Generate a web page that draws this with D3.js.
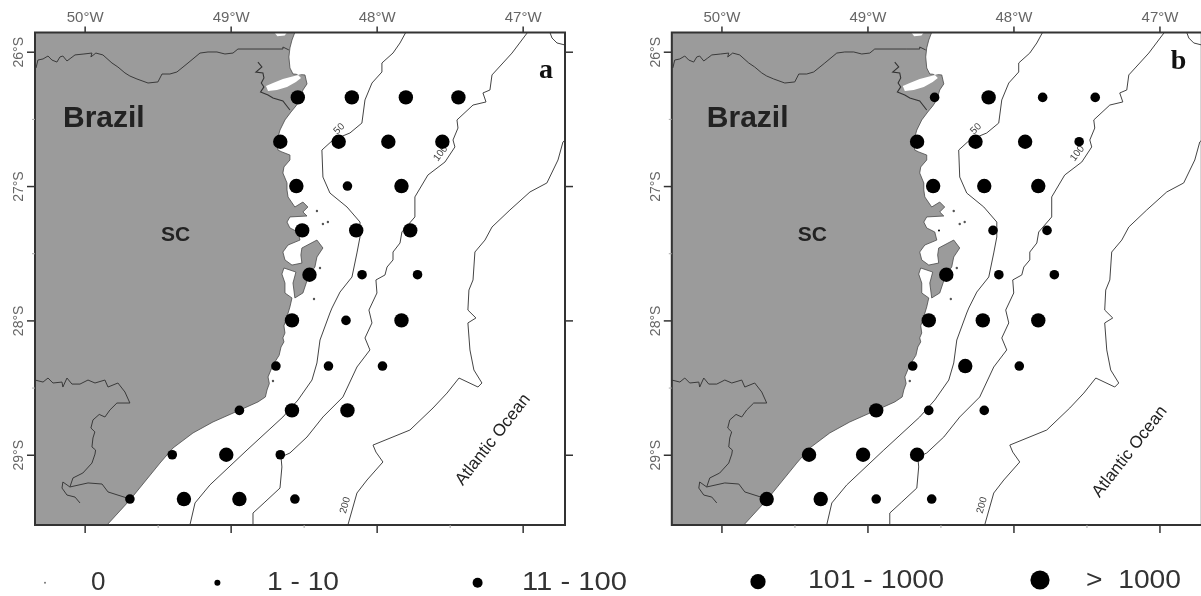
<!DOCTYPE html>
<html>
<head>
<meta charset="utf-8">
<script src="https://cdnjs.cloudflare.com/ajax/libs/d3/7.8.5/d3.min.js"></script>
<style>
  html, body { margin: 0; padding: 0; background: #fff; overflow: hidden; }
  svg { display: block; font-family: "Liberation Sans", Arial, sans-serif; filter: blur(0.6px); }
</style>
</head>
<body>
<div id="chart"></div>
<script>
// station grid (degrees W as negative lon, degrees S as positive lat)
const stationLon = [-48.54, -48.17, -47.80, -47.44,
  -48.66, -48.26, -47.92, -47.55,
  -48.55, -48.20, -47.83,
  -48.51, -48.14, -47.77,
  -48.46, -48.10, -47.72,
  -48.58, -48.21, -47.83,
  -48.69, -48.33, -47.96,
  -48.94, -48.58, -48.20,
  -49.40, -49.03, -48.66,
  -49.69, -49.32, -48.94, -48.56];
const stationLat = [26.34, 26.34, 26.34, 26.34,
  26.67, 26.67, 26.67, 26.67,
  27.00, 27.00, 27.00,
  27.33, 27.33, 27.33,
  27.66, 27.66, 27.66,
  28.00, 28.00, 28.00,
  28.34, 28.34, 28.34,
  28.67, 28.67, 28.67,
  29.00, 29.00, 29.00,
  29.33, 29.33, 29.33, 29.33];

// abundance class of each station: index into classLabels
const classesA = [3, 3, 3, 3, 3, 3, 3, 3, 3, 2, 3, 3, 3, 3, 3, 2, 2, 3, 2, 3, 2, 2, 2, 2, 3, 3, 2, 3, 2, 2, 3, 3, 2];
const classesB = [2, 3, 2, 2, 3, 3, 3, 2, 3, 3, 3, 0, 2, 2, 3, 2, 2, 3, 3, 3, 2, 3, 2, 3, 2, 2, 3, 3, 3, 3, 3, 2, 2];

const classLabels = ["0", "1 - 10", "11 - 100", "101 - 1000", ">  1000"];
const classIds = [0, 1, 2, 3, 4];

const lonTicks = [-50, -49, -48, -47];
const lonMinor = [-49.5, -48.5, -47.5];
const latTicks = [26, 27, 28, 29];
const latMinor = [26.5, 27.5, 28.5];

// land outline, north to south, then the frame corners
const coast = [[-48.559, 25.853], [-48.580, 25.913], [-48.594, 25.972], [-48.601, 26.039], [-48.594, 26.121], [-48.573, 26.166],
  [-48.491, 26.173], [-48.477, 26.240], [-48.505, 26.285], [-48.525, 26.359], [-48.553, 26.404], [-48.587, 26.449],
  [-48.628, 26.508], [-48.662, 26.583], [-48.683, 26.665], [-48.676, 26.732], [-48.649, 26.746], [-48.594, 26.769],
  [-48.594, 26.806], [-48.635, 26.858], [-48.642, 26.903], [-48.614, 26.977], [-48.614, 27.029], [-48.607, 27.081],
  [-48.560, 27.156], [-48.505, 27.119], [-48.471, 27.156], [-48.505, 27.193], [-48.477, 27.223], [-48.594, 27.230],
  [-48.614, 27.268], [-48.594, 27.312], [-48.539, 27.342], [-48.525, 27.402], [-48.607, 27.439], [-48.642, 27.491],
  [-48.628, 27.550], [-48.580, 27.588], [-48.512, 27.573], [-48.519, 27.513], [-48.512, 27.461], [-48.409, 27.402],
  [-48.368, 27.461], [-48.409, 27.528], [-48.423, 27.603], [-48.464, 27.662], [-48.505, 27.796], [-48.560, 27.833],
  [-48.573, 27.722], [-48.553, 27.640], [-48.635, 27.610], [-48.649, 27.655], [-48.628, 27.722], [-48.628, 27.796],
  [-48.580, 27.833], [-48.594, 27.900], [-48.621, 27.997], [-48.635, 28.04], [-48.628, 28.094], [-48.642, 28.13], [-48.635, 28.16],
  [-48.655, 28.198], [-48.668, 28.26], [-48.710, 28.332], [-48.744, 28.421], [-48.735, 28.47], [-48.751, 28.518],
  [-48.762, 28.57], [-48.813, 28.607], [-48.936, 28.667], [-49.121, 28.756], [-49.258, 28.838],
  [-49.395, 28.950], [-49.484, 29.062], [-49.690, 29.337], [-49.847, 29.523],
  [-50.34, 29.523], [-50.34, 25.857], [-48.559, 25.857]];

const bay = [[-48.559, 26.151], [-48.512, 26.166], [-48.642, 26.203], [-48.710, 26.233], [-48.758, 26.255], [-48.744, 26.292],
  [-48.683, 26.285], [-48.614, 26.263], [-48.553, 26.226], [-48.518, 26.196]];
const topBay = [[-48.70, 25.857], [-48.614, 25.857], [-48.63, 25.88], [-48.68, 25.885]];
const bayShore = [[-48.813, 26.077], [-48.786, 26.114], [-48.827, 26.151], [-48.779, 26.158], [-48.772, 26.195], [-48.790, 26.233],
  [-48.772, 26.262], [-48.795, 26.300], [-48.744, 26.322], [-48.710, 26.345], [-48.642, 26.367], [-48.594, 26.434]];
const islets = [[-48.409, 27.186], [-48.368, 27.283], [-48.334, 27.268], [-48.388, 27.610], [-48.429, 27.841], [-48.710, 28.451]];

const northBorder = [[-50.333, 26.121], [-50.320, 26.062], [-50.285, 26.054], [-50.251, 26.032], [-50.224, 26.062], [-50.190, 26.077],
  [-50.169, 26.039], [-50.149, 26.032], [-50.121, 26.069], [-50.094, 26.047], [-50.066, 26.024], [-50.005, 26.017],
  [-49.950, 26.010], [-49.957, 26.039], [-49.923, 26.010], [-49.875, 26.024], [-49.813, 26.084], [-49.772, 26.114],
  [-49.724, 26.158], [-49.690, 26.181], [-49.642, 26.203], [-49.566, 26.233], [-49.498, 26.225], [-49.470, 26.166],
  [-49.416, 26.166], [-49.368, 26.151], [-49.292, 26.084], [-49.210, 26.010], [-49.155, 26.002], [-49.094, 26.002],
  [-49.039, 26.017], [-48.984, 26.010], [-48.950, 25.980], [-48.731, 25.980], [-48.642, 25.980], [-48.642, 25.965], [-48.601, 25.987]];

const southBorder = [[-50.340, 28.444], [-50.285, 28.459], [-50.251, 28.429], [-50.217, 28.466], [-50.155, 28.459], [-50.149, 28.496],
  [-50.121, 28.429], [-50.087, 28.474], [-50.032, 28.474], [-49.977, 28.444], [-49.929, 28.466], [-49.861, 28.444],
  [-49.840, 28.496], [-49.772, 28.466], [-49.724, 28.533], [-49.690, 28.615], [-49.779, 28.615], [-49.827, 28.667],
  [-49.861, 28.719], [-49.900, 28.700], [-49.943, 28.741], [-49.957, 28.801], [-49.930, 28.830], [-49.943, 28.875], [-49.950, 28.942],
  [-49.925, 28.965], [-49.929, 28.995], [-49.950, 29.062], [-50.012, 29.136], [-50.080, 29.173], [-50.101, 29.240], [-50.149, 29.203], [-50.155, 29.248],
  [-50.121, 29.300], [-50.066, 29.315], [-50.032, 29.359]];
const southBranch = [[-50.101, 29.240], [-49.977, 29.210], [-49.881, 29.218], [-49.840, 29.277], [-49.710, 29.322]];

const iso50 = [[-47.799, 25.853], [-47.840, 25.935], [-47.888, 26.010], [-47.964, 26.084], [-47.964, 26.151], [-48.032, 26.233],
  [-48.080, 26.359], [-48.101, 26.531], [-48.183, 26.605], [-48.299, 26.657], [-48.375, 26.732], [-48.368, 26.933],
  [-48.320, 27.052], [-48.203, 27.156], [-48.114, 27.268], [-48.114, 27.379], [-48.135, 27.498], [-48.169, 27.677],
  [-48.251, 27.789], [-48.306, 27.908], [-48.320, 27.945], [-48.388, 28.146], [-48.409, 28.317], [-48.443, 28.444],
  [-48.539, 28.593], [-48.642, 28.719], [-48.888, 28.965], [-49.142, 29.225], [-49.244, 29.359], [-49.279, 29.523]];

const iso100 = [[-46.964, 25.853], [-47.073, 26.010], [-47.135, 26.084], [-47.210, 26.173], [-47.224, 26.285], [-47.272, 26.307],
  [-47.251, 26.374], [-47.340, 26.397], [-47.450, 26.508], [-47.443, 26.568], [-47.477, 26.657], [-47.464, 26.709],
  [-47.532, 26.821], [-47.649, 26.918], [-47.738, 27.081], [-47.738, 27.230], [-47.827, 27.342], [-47.840, 27.424],
  [-47.888, 27.491], [-47.888, 27.550], [-47.929, 27.603], [-47.943, 27.662], [-48.005, 27.699], [-47.998, 27.796],
  [-48.053, 27.923], [-48.032, 28.019], [-48.080, 28.131], [-48.046, 28.220], [-48.135, 28.347], [-48.231, 28.570],
  [-48.368, 28.719], [-48.477, 28.868], [-48.594, 28.987], [-48.655, 29.017], [-48.649, 29.091], [-48.662, 29.248],
  [-48.765, 29.352], [-48.847, 29.434], [-48.847, 29.523]];

const iso200 = [[-46.710, 26.657], [-46.724, 26.672], [-46.758, 26.806], [-46.834, 26.977], [-46.950, 27.044], [-47.087, 27.178],
  [-47.210, 27.305], [-47.258, 27.402], [-47.327, 27.491], [-47.340, 27.699], [-47.368, 27.774], [-47.375, 27.923],
  [-47.320, 27.982], [-47.375, 28.019], [-47.361, 28.220], [-47.334, 28.369], [-47.279, 28.466], [-47.306, 28.496],
  [-47.436, 28.429], [-47.518, 28.541], [-47.614, 28.652], [-47.772, 28.816], [-48.025, 28.928], [-48.005, 28.980],
  [-47.957, 29.054], [-48.066, 29.188], [-48.135, 29.285], [-48.197, 29.523]];
const iso200Corner = [[-46.813, 25.857], [-46.799, 25.898], [-46.765, 25.935], [-46.710, 25.950]];

const isoLabels = ["50", "100", "200"];
const isoLabelLon = [-48.26, -47.566, -48.22];
const isoLabelLat = [26.57, 26.754, 29.375];

const width = 1201, height = 596;
const frame = { left: 35, right: 565, top: 32.5, bottom: 525 };
const panelOffset = 636.8;
const inkGray = "#666", frameInk = "#333", landFill = "#9b9b9b", shoreInk = "#4a4a4a";

const x = d3.scaleLinear().domain([-50.34, -46.71]).range([frame.left, frame.right]);
const y = d3.scaleLinear().domain([25.857, 29.523]).range([frame.top, frame.bottom]);
const r = d3.scaleOrdinal().domain(classIds).range([1, 3, 4.8, 7.2, 9.6]);

const line = d3.line().x(d => x(d[0])).y(d => y(d[1]));

const svg = d3.select("#chart").append("svg")
    .attr("width", width)
    .attr("height", height)
    .attr("viewBox", [0, 0, width, height]);

svg.append("defs").append("clipPath").attr("id", "map-clip")
  .append("rect")
    .attr("x", frame.left)
    .attr("y", frame.top)
    .attr("width", frame.right - frame.left)
    .attr("height", frame.bottom - frame.top);

function drawPanel(dx, classes, opts) {
  const g = svg.append("g").attr("transform", `translate(${dx},0)`);
  const map = g.append("g").attr("clip-path", "url(#map-clip)");

  map.append("path").attr("d", line(coast) + "Z")
      .attr("fill", landFill).attr("stroke", shoreInk).attr("stroke-width", 0.8);
  map.append("path").attr("d", line(bay) + "Z")
      .attr("fill", "#fff");
  map.append("path").attr("d", line(topBay) + "Z")
      .attr("fill", "#fff");
  map.append("path").attr("d", line(bayShore))
      .attr("fill", "none").attr("stroke", "#333").attr("stroke-width", 1.1);

  map.selectAll(".islet").data(islets).join("circle")
      .attr("class", "islet")
      .attr("cx", d => x(d[0])).attr("cy", d => y(d[1]))
      .attr("r", 1.2).attr("fill", "#555");

  // state borders and isobaths
  [northBorder, southBorder, southBranch].forEach(b => {
    map.append("path").attr("d", line(b))
        .attr("fill", "none").attr("stroke", "#3a3a3a").attr("stroke-width", 1);
  });
  [iso50, iso100, iso200, iso200Corner].forEach(b => {
    map.append("path").attr("d", line(b))
        .attr("fill", "none").attr("stroke", "#444").attr("stroke-width", 1);
  });

  const angles = [-45, -52, -75];
  isoLabels.forEach((t, i) => {
    map.append("text")
        .attr("transform", `translate(${x(isoLabelLon[i])},${y(isoLabelLat[i])}) rotate(${angles[i]})`)
        .attr("text-anchor", "middle").attr("dy", "0.35em")
        .attr("font-size", 10).attr("fill", "#444").text(t);
  });

  map.selectAll(".station").data(classes).join("circle")
      .attr("class", "station")
      .attr("cx", (d, i) => x(stationLon[i]))
      .attr("cy", (d, i) => y(stationLat[i]))
      .attr("r", d => r(d))
      .attr("fill", "#000");

  // frame and axes
  g.append("rect")
      .attr("x", frame.left).attr("y", frame.top)
      .attr("width", frame.right - frame.left).attr("height", frame.bottom - frame.top)
      .attr("fill", "none").attr("stroke", frameInk).attr("stroke-width", 2);

  const styleAxis = s => {
    s.select(".domain").remove();
    s.selectAll(".tick line").attr("stroke", frameInk).attr("stroke-width", 1.5);
    s.selectAll(".tick text").attr("fill", inkGray).attr("font-family", "Liberation Sans").attr("font-size", 15);
  };
  const minorAxis = s => {
    s.select(".domain").remove();
    s.selectAll(".tick line").attr("stroke", "#aaa").attr("stroke-width", 1);
  };
  const fmtLon = d => `${-d}°W`;
  const fmtLat = d => `${d}°S`;

  g.append("g").attr("transform", `translate(0,${frame.top})`)
      .call(d3.axisTop(x).tickValues(lonTicks).tickSize(6).tickPadding(5).tickFormat(fmtLon))
      .call(styleAxis);
  g.append("g").attr("transform", `translate(0,${frame.bottom})`)
      .call(d3.axisBottom(x).tickValues(lonTicks).tickSize(8).tickFormat(""))
      .call(styleAxis);
  g.append("g").attr("transform", `translate(${frame.left},0)`)
      .call(d3.axisLeft(y).tickValues(latTicks).tickSize(8).tickPadding(0).tickFormat(fmtLat))
      .call(styleAxis)
      .call(s => s.selectAll(".tick text")
          .attr("font-size", 14)
          .attr("text-anchor", "middle")
          .attr("x", 0).attr("dy", 0)
          .attr("transform", "translate(-12,0) rotate(-90)"));
  g.append("g").attr("transform", `translate(${frame.right},0)`)
      .call(d3.axisRight(y).tickValues(latTicks).tickSize(8).tickFormat(""))
      .call(styleAxis);

  g.append("g").attr("transform", `translate(0,${frame.bottom})`)
      .call(d3.axisBottom(x).tickValues(lonMinor).tickSize(3).tickFormat(""))
      .call(minorAxis);
  g.append("g").attr("transform", `translate(${frame.left},0)`)
      .call(d3.axisLeft(y).tickValues(latMinor).tickSize(3).tickFormat(""))
      .call(minorAxis);

  // labels on the map
  g.append("text").attr("x", opts.brazilX).attr("y", 127)
      .attr("font-size", 30).attr("font-weight", "bold").attr("fill", "#222").text("Brazil");
  g.append("text").attr("x", 161).attr("y", 241)
      .attr("font-size", 21).attr("font-weight", "bold").attr("fill", "#222").text("SC");
  g.append("text")
      .attr("transform", `translate(492,${opts.oceanY}) rotate(-52)`)
      .attr("text-anchor", "middle").attr("dy", "0.35em")
      .attr("font-size", 17).attr("fill", "#222").text("Atlantic Ocean");
  g.append("text").attr("x", opts.tagX).attr("y", opts.tagY)
      .attr("font-family", "Liberation Serif").attr("font-weight", "bold")
      .attr("font-size", 28).attr("fill", "#111").text(opts.tag);
}

drawPanel(0, classesA, { brazilX: 63, oceanY: 439, tag: "a", tagX: 539, tagY: 78 });
drawPanel(panelOffset, classesB, { brazilX: 70, oceanY: 451, tag: "b", tagX: 534, tagY: 69 });

// legend along the bottom
const legendDotX = [45, 217.4, 477.6, 758, 1040];
const legendDotY = [582.7, 582.7, 582.7, 581.7, 580];
const legendTextX = [91, 267, 522, 808, 1086];
const legendTextY = [590, 590, 590, 588, 588];
const legendTextW = [14.5, 72, 105, 136, 95];

const legend = svg.append("g");
legend.selectAll("circle").data(classIds).join("circle")
    .attr("cx", d => legendDotX[d])
    .attr("cy", d => legendDotY[d])
    .attr("r", d => d === 3 ? 7.6 : (d === 2 ? 5 : r(d)))
    .attr("fill", d => d === 0 ? "#777" : "#000");
legend.selectAll("text").data(classIds).join("text")
    .attr("x", d => legendTextX[d])
    .attr("y", d => legendTextY[d])
    .attr("font-size", 26)
    .attr("fill", "#333")
    .attr("textLength", d => legendTextW[d])
    .attr("lengthAdjust", "spacingAndGlyphs")
    .style("white-space", "pre")
    .text(d => classLabels[d]);
</script>
</body>
</html>
